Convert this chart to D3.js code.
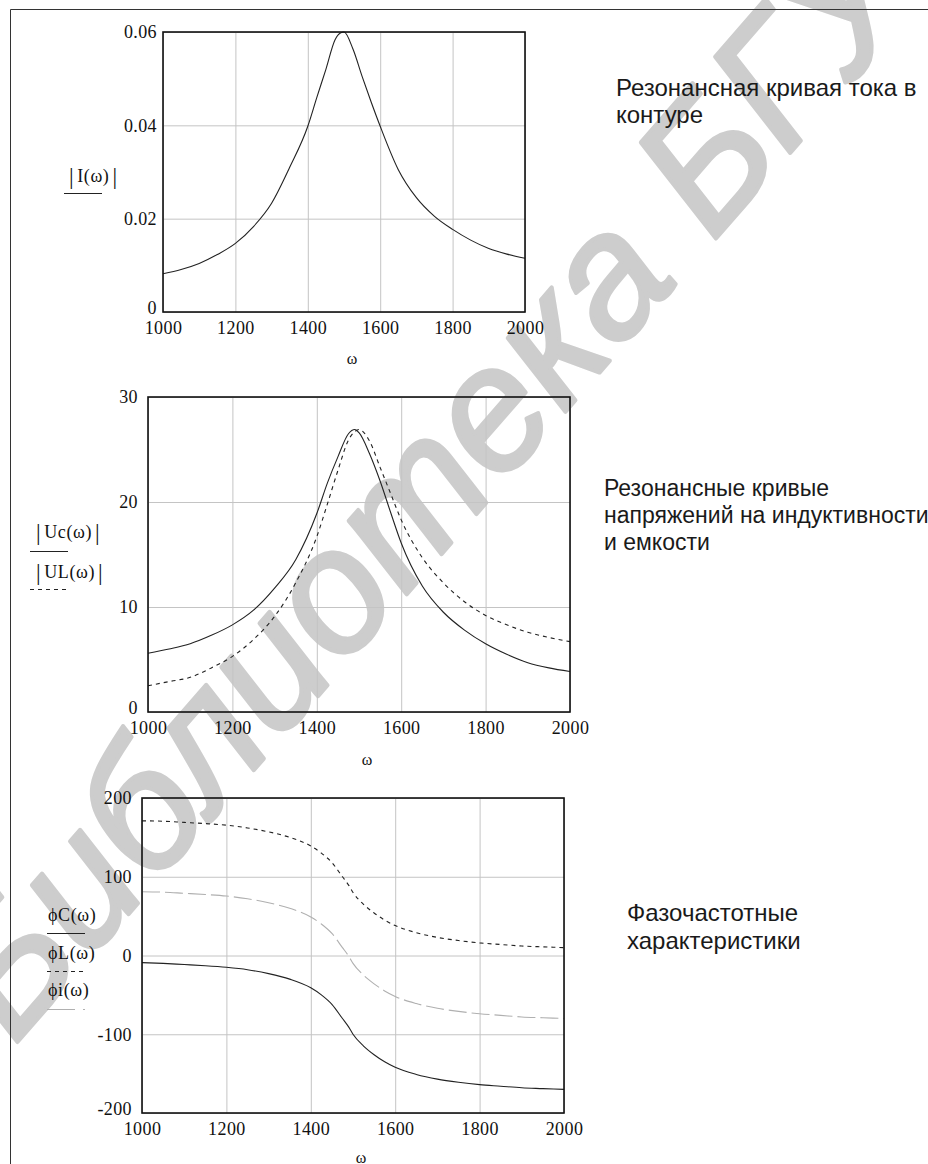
<!DOCTYPE html>
<html><head><meta charset="utf-8">
<script src="https://cdn.jsdelivr.net/npm/d3@7"></script>
<style>
html,body{margin:0;padding:0;background:#fff;}
svg{display:block;}
</style></head>
<body>
<script>
// ---------- data ----------
const omega = [1000,1050,1100,1150,1200,1250,1300,1350,1400,1425,1450,1475,1490,1500,1525,1550,1575,1600,1650,1700,1750,1800,1850,1900,1950,2000];
const currentI = [0.0082,0.0091,0.0104,0.0123,0.0147,0.0183,0.0233,0.0310,0.0398,0.0460,0.0520,0.0583,0.0598,0.0600,0.0563,0.0505,0.0450,0.0398,0.0305,0.0245,0.0205,0.0177,0.0154,0.0136,0.0124,0.0115];
const voltageC = [5.6,6.0,6.5,7.3,8.3,9.7,11.8,14.5,18.9,21.8,24.3,26.5,26.9,26.6,24.6,22.0,19.0,16.1,12.0,9.5,7.8,6.5,5.5,4.7,4.2,3.85];
const voltageL = [2.5,2.9,3.3,4.2,5.3,6.9,9.1,12.3,16.7,19.8,23.0,25.9,26.7,26.9,25.8,23.3,20.8,18.3,14.7,12.3,10.5,9.2,8.3,7.6,7.1,6.7];
const phaseC = [-9,-10,-11.5,-13,-15,-18,-23,-30,-41,-50,-62,-80,-91,-100,-115,-126,-135,-142,-151,-157,-161,-164,-166,-168,-169,-170];
const phaseL = [171,170.5,169,167.5,165.5,162,157,150,139,130,118,100,89,80,65,54,45,38,29,23,19,16,14,12,11,10];
const phaseI = [81,80.5,79,77.5,75.5,72,67,60,49,40,28,10,-1,-10,-25,-36,-45,-52,-61,-67,-71,-74,-76,-78,-79,-80];

const xTicks = [1000,1200,1400,1600,1800,2000];
const yTicks1 = [0,0.02,0.04,0.06];
const yTicks2 = [0,10,20,30];
const yTicks3 = [-200,-100,0,100,200];
const yTickLabels1 = ["0","0.02","0.04","0.06"];

const caption1 = ["Резонансная кривая тока в","контуре"];
const caption2 = ["Резонансные кривые","напряжений на индуктивности","и емкости"];
const caption3 = ["Фазочастотные","характеристики"];
const watermark = "Библиотека БГУИР";

// ---------- drawing ----------
const W = 928, H = 1164;
const svg = d3.select("body").append("svg").attr("width", W).attr("height", H);

const serif = "'Liberation Serif','Times New Roman',serif";
const sans = "'Liberation Sans',Arial,sans-serif";

// watermark (behind everything)
svg.append("text")
  .attr("transform", "translate(14,1046) rotate(-49)")
  .attr("font-family", sans).attr("font-style", "italic")
  .attr("font-size", 174).attr("fill", "#cdcdcd")
  .attr("stroke", "#cdcdcd").attr("stroke-width", 4).attr("stroke-linejoin", "round")
  .text(watermark);

// outer frame
svg.append("path").attr("d", `M10.5,${H} V9.5 H${W}`)
  .attr("fill", "none").attr("stroke", "#333").attr("stroke-width", 1);

function panel(cfg) {
  const g = svg.append("g");
  const x = d3.scaleLinear().domain([1000, 2000]).range([cfg.x0, cfg.x1]);
  const y = d3.scaleLinear().domain(cfg.yDomain).range([cfg.y1, cfg.y0]);

  // grid
  g.append("g").attr("transform", `translate(0,${cfg.y1})`)
    .call(d3.axisBottom(x).tickValues(xTicks).tickSize(-(cfg.y1 - cfg.y0)).tickFormat(""))
    .call(a => a.select(".domain").remove())
    .call(a => a.selectAll("line").attr("stroke", "#c4c4c4"));
  g.append("g").attr("transform", `translate(${cfg.x0},0)`)
    .call(d3.axisLeft(y).tickValues(cfg.yTicks).tickSize(-(cfg.x1 - cfg.x0)).tickFormat(""))
    .call(a => a.select(".domain").remove())
    .call(a => a.selectAll("line").attr("stroke", "#c4c4c4"));

  // tick labels
  g.append("g").attr("transform", `translate(${cfg.x0 - cfg.yPad},0)`)
    .call(d3.axisLeft(y).tickValues(cfg.yTicks).tickSize(0).tickPadding(0).tickFormat(cfg.yFormat))
    .call(a => a.select(".domain").remove())
    .call(a => a.selectAll("text").attr("font-family", serif).attr("font-size", 18)
      .attr("letter-spacing", 0.4).attr("fill", "#111")
      .attr("dy", d => d === cfg.yDomain[0] ? "0.1em" : "0.32em"));
  g.append("g").attr("transform", `translate(0,${cfg.y1 + 9})`)
    .call(d3.axisBottom(x).tickValues(xTicks).tickSize(0).tickPadding(0).tickFormat(d => String(d)))
    .call(a => a.select(".domain").remove())
    .call(a => a.selectAll("text").attr("font-family", serif).attr("font-size", 18)
      .attr("letter-spacing", 0.4).attr("fill", "#111"));

  // x axis title
  g.append("text").attr("x", (cfg.x0 + cfg.x1) / 2 + 8).attr("y", cfg.wy)
    .attr("text-anchor", "middle").attr("dominant-baseline", "central")
    .attr("font-family", serif).attr("font-size", 16).attr("fill", "#111").text("ω");

  // curves
  const line = d3.line().x((d, i) => x(omega[i])).y(d => y(d)).curve(d3.curveMonotoneX);
  cfg.series.forEach(s => {
    g.append("path").datum(s.values).attr("d", line)
      .attr("fill", "none").attr("stroke", s.color).attr("stroke-width", 1.1)
      .attr("stroke-dasharray", s.dash || null);
  });

  // frame
  g.append("rect").attr("x", cfg.x0).attr("y", cfg.y0)
    .attr("width", cfg.x1 - cfg.x0).attr("height", cfg.y1 - cfg.y0)
    .attr("fill", "none").attr("stroke", "#111").attr("stroke-width", 1.6);

  // legend-like y titles
  cfg.legend.forEach(l => {
    const t = g.append("text").attr("x", l.x).attr("y", l.y).attr("dominant-baseline", "central")
      .attr("font-family", serif).attr("font-size", 18).attr("fill", "#111")
      .attr("letter-spacing", 0.6);
    if (l.bars) {
      t.append("tspan").attr("font-size", 23).text("|");
      t.append("tspan").attr("dx", 3).text(l.text);
      t.append("tspan").attr("font-size", 23).attr("dx", 3).text("|");
    } else {
      t.text(l.text);
    }
    g.append("line").attr("x1", l.lx0).attr("x2", l.lx1).attr("y1", l.ly).attr("y2", l.ly)
      .attr("stroke", l.color).attr("stroke-width", 1.2).attr("stroke-dasharray", l.dash || null);
  });

  // caption
  cfg.caption.forEach((t, i) => {
    g.append("text").attr("x", cfg.cx).attr("y", cfg.cy + i * cfg.cdy)
      .attr("dominant-baseline", "central")
      .attr("font-family", sans).attr("font-size", cfg.cfs).attr("fill", "#1a1a1a").text(t);
  });
}

panel({
  x0: 163, x1: 525, y0: 32, y1: 312, yDomain: [0, 0.06], yTicks: yTicks1,
  yFormat: d => yTickLabels1[yTicks1.indexOf(d)], yPad: 6, wy: 358,
  series: [{ values: currentI, color: "#222" }],
  legend: [{ text: "I(ω)", bars: true, x: 69, y: 176, lx0: 64, lx1: 102, ly: 193.5, color: "#222" }],
  caption: caption1, cx: 616, cy: 87, cdy: 27, cfs: 24
});

panel({
  x0: 148, x1: 570, y0: 397, y1: 712, yDomain: [0, 30], yTicks: yTicks2,
  yFormat: d => String(d), yPad: 10, wy: 759,
  series: [{ values: voltageC, color: "#222" }, { values: voltageL, color: "#222", dash: "4,4" }],
  legend: [
    { text: "Uc(ω)", bars: true, x: 36, y: 532, lx0: 30, lx1: 68, ly: 551.5, color: "#222" },
    { text: "UL(ω)", bars: true, x: 36, y: 572, lx0: 30, lx1: 68, ly: 589.5, color: "#222", dash: "4,4" }
  ],
  caption: caption2, cx: 604, cy: 488, cdy: 27, cfs: 23
});

panel({
  x0: 142, x1: 564, y0: 798, y1: 1113, yDomain: [-200, 200], yTicks: yTicks3,
  yFormat: d => String(d), yPad: 10, wy: 1157,
  series: [
    { values: phaseC, color: "#222" },
    { values: phaseL, color: "#222", dash: "4,4" },
    { values: phaseI, color: "#b0b0b0", dash: "18,5" }
  ],
  legend: [
    { text: "ϕC(ω)", x: 48, y: 915, lx0: 47, lx1: 85, ly: 933.5, color: "#222" },
    { text: "ϕL(ω)", x: 48, y: 953, lx0: 47, lx1: 85, ly: 971.5, color: "#222", dash: "4,4" },
    { text: "ϕi(ω)", x: 48, y: 990, lx0: 47, lx1: 85, ly: 1009.5, color: "#b0b0b0", dash: "28,8" }
  ],
  caption: caption3, cx: 627, cy: 912, cdy: 28, cfs: 24
});
</script>
</body></html>
